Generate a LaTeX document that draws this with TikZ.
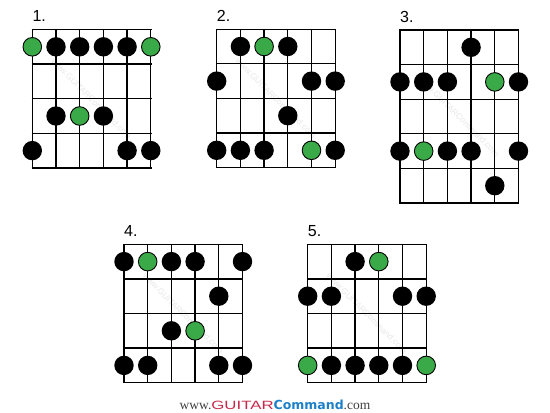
\documentclass[tikz,border=0pt]{standalone}
\usepackage{fontspec}
\setmainfont{Liberation Sans}
\newfontfamily\serifsite{Liberation Serif}
\newfontfamily\boldsite{DejaVu Sans}

\definecolor{notegreen}{HTML}{3AAA48}
\definecolor{sitered}{HTML}{C8284A}
\definecolor{siteblue}{HTML}{1E80C8}

\tikzset{
  fretline/.style={line width=1.3pt, black},
  bdot/.style={fill=black},
  gdot/.style={draw=black, line width=0.9pt, fill=notegreen},
  numlabel/.style={anchor=base west, inner sep=0pt, font=\fontsize{16}{16}\selectfont},
  wmark/.style={rotate=-45, text=black!9, inner sep=0pt, font=\fontsize{8.5}{8.5}\selectfont}
}

% one scale box: name, left x, top y, rows, label, black notes, green notes
\newcommand{\fretchart}[7]{%
  \begin{scope}[shift={(#2pt,-#3pt)}, x=23.7pt, y=-34.6pt]
    \node[wmark] (#1-wm) at (2.5,#4/2) {www.GUITARCommand.com};
    \foreach \i in {0,...,5}
      \draw[fretline] (\i,0) -- (\i,#4);
    \foreach \j in {0,...,#4}
      \draw[fretline] (-0.03,\j) -- (5.03,\j);
    \node[numlabel] (#1-lab) at (0,-0.23) {#5};
    \foreach \s/\r in {#6}
      \path[bdot] (\s-1,\r-0.5) circle[radius=9.7pt];
    \foreach \s/\r in {#7}
      \path[gdot] (\s-1,\r-0.5) circle[radius=9.3pt];
  \end{scope}}

\begin{document}
\begin{tikzpicture}
  \useasboundingbox[fill=white] (0pt,0pt) rectangle (550pt,-413pt);

  % top row of shapes
  \fretchart{one}{32.3}{29.5}{4}{1.}{2/1,3/1,4/1,5/1,2/3,4/3,1/4,5/4,6/4}{1/1,6/1,3/3}
  \fretchart{two}{216.7}{29.2}{4}{2.}{2/1,4/1,1/2,5/2,6/2,4/3,1/4,2/4,3/4,6/4}{3/1,5/4}
  \fretchart{three}{400}{30}{5}{3.}{4/1,1/2,2/2,3/2,6/2,1/4,3/4,4/4,6/4,5/5}{5/2,2/4}

  % bottom row of shapes
  \fretchart{four}{124}{244.3}{4}{4.}{1/1,3/1,4/1,6/1,5/2,3/3,1/4,2/4,5/4,6/4}{2/1,4/3}
  \fretchart{five}{307.7}{244.3}{4}{5.}{3/1,1/2,2/2,5/2,6/2,2/4,3/4,4/4,5/4}{4/1,1/4,6/4}

  % site name
  \node[anchor=base, inner sep=0pt] (site) at (275pt,-409pt)
    {{\serifsite\fontsize{13.5}{13.5}\selectfont\color{black!75}www.}%
     {\fontsize{12}{12}\selectfont\color{sitered}\scalebox{1.4}[1]{GUITAR}}%
     {\boldsite\bfseries\fontsize{12.5}{12.5}\selectfont\color{siteblue}Command}%
     {\serifsite\fontsize{13.5}{13.5}\selectfont\color{black!75}.com}};
\end{tikzpicture}
\end{document}
